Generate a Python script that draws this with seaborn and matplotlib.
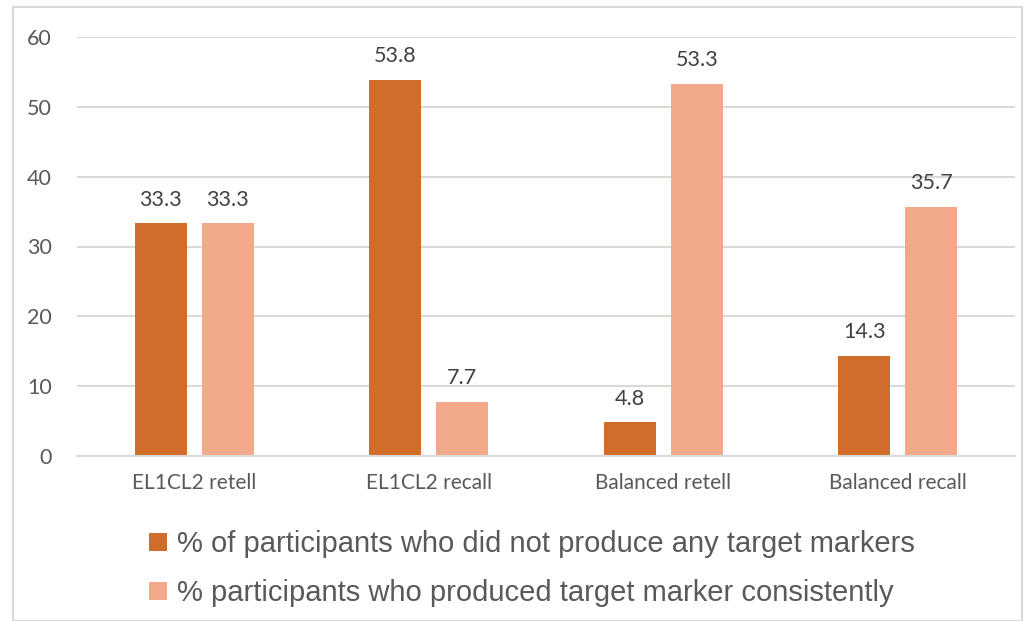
import matplotlib
matplotlib.use("Agg")
import matplotlib.pyplot as plt
import seaborn as sns
import pandas as pd
from matplotlib.patches import Rectangle, Patch

categories = ["EL1CL2 retell", "EL1CL2 recall", "Balanced retell", "Balanced recall"]
series_names = ["% of participants who did not produce any target markers",
                "% participants who produced target marker consistently"]
none_values = [33.3, 53.8, 4.8, 14.3]
consistent_values = [33.3, 7.7, 53.3, 35.7]
yticks = [0, 10, 20, 30, 40, 50, 60]

colors = ["#D06D2B", "#F2A98A"]
text_color = "#595959"
label_color = "#404040"

df = pd.DataFrame({
    "category": categories * 2,
    "series": [series_names[0]] * 4 + [series_names[1]] * 4,
    "value": none_values + consistent_values,
})

sns.set_theme(style="white")
plt.rcParams['font.family'] = ['Lato', 'DejaVu Sans']

fig = plt.figure(figsize=(10.29, 6.21), dpi=100)
ax = fig.add_axes([77/1029, 1 - 456/621, (1015-77)/1029, (456-37)/621])

sns.barplot(data=df, x="category", y="value", hue="series", order=categories,
            hue_order=series_names, palette=colors, width=0.571, gap=0.22,
            ax=ax, legend=False, saturation=1, linewidth=0, edgecolor="none")

ax.set_ylim(0, 60)
ax.set_xlim(-0.5, 3.5)
ax.set_yticks(yticks)
ax.set_yticklabels([str(t) for t in yticks], fontsize=15.5, color=text_color)
ax.set_xticklabels(categories, fontsize=15, color=text_color)
ax.tick_params(axis='y', length=0, pad=18)
ax.tick_params(axis='x', length=0, pad=12)
ax.set_xlabel("")
ax.set_ylabel("")
ax.yaxis.grid(True, color="#D9D9D9", linewidth=1.5)
ax.set_axisbelow(True)
for s in ["top", "right", "left"]:
    ax.spines[s].set_visible(False)
ax.spines["bottom"].set_color("#D9D9D9")
ax.spines["bottom"].set_linewidth(1.5)

for container in ax.containers:
    ax.bar_label(container, fmt="%.1f", padding=10, fontsize=15.5, color=label_color)

handles = [Patch(facecolor=c, edgecolor='none') for c in colors]
leg = fig.legend(handles, series_names, loc="upper left",
                 bbox_to_anchor=(123/1029, 1 - 504/621), frameon=False,
                 prop={'family': ['Liberation Sans'], 'size': 21},
                 handlelength=0.6, handleheight=0.6, handletextpad=0.35,
                 labelspacing=0.72, labelcolor=text_color)

fig.patches.append(Rectangle((13/1029, 0.0), (1022-13)/1029, 1 - 7/621,
                             transform=fig.transFigure, fill=False,
                             edgecolor="#D9D9D9", linewidth=1.5))

fig.savefig("out.png", dpi=100)
